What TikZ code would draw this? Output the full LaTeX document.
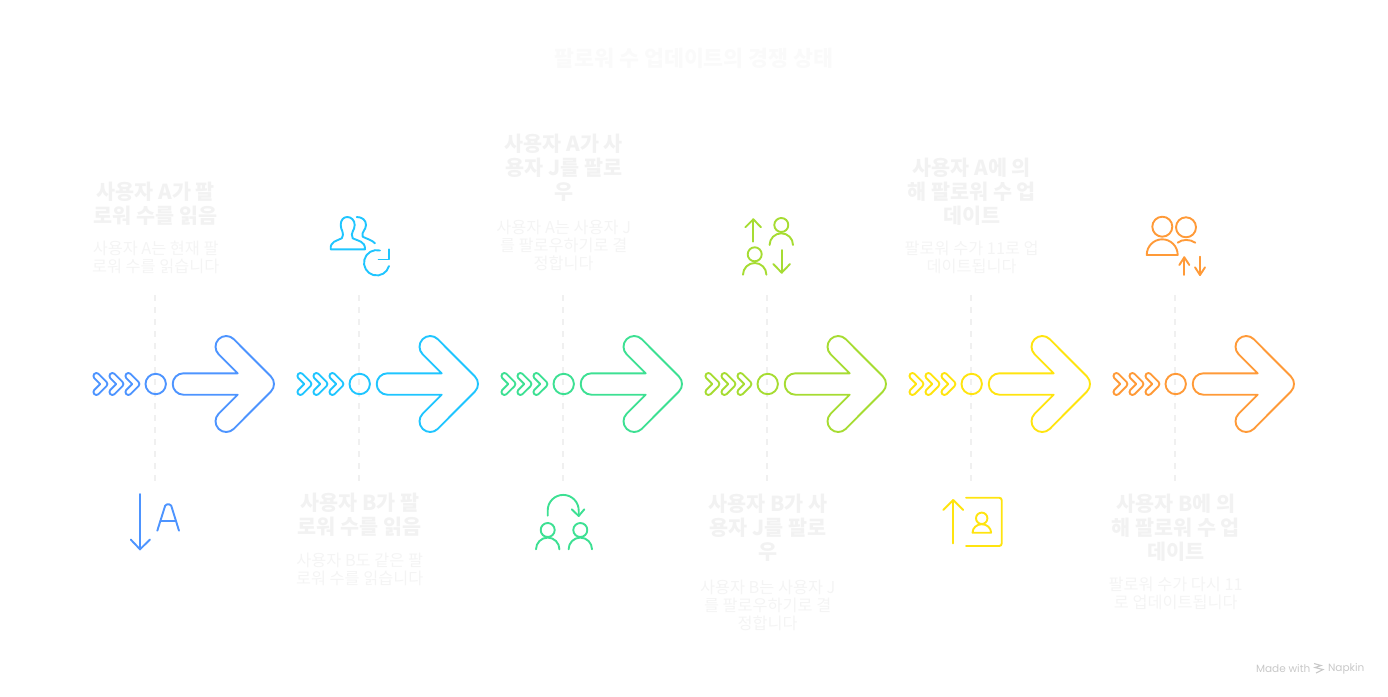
\documentclass[tikz,border=0pt]{standalone}
\usepackage{fontspec}
\setmainfont{Noto Sans CJK KR}
\newfontfamily\footfont{Poppins}
\definecolor{stepblue}{HTML}{4D94FF}
\definecolor{stepcyan}{HTML}{1FC5FF}
\definecolor{stepgreen}{HTML}{3DE093}
\definecolor{steplime}{HTML}{A6DC32}
\definecolor{stepyellow}{HTML}{FFE40F}
\definecolor{steporange}{HTML}{FF9A38}
\definecolor{titlegray}{HTML}{FAFAFA}
\definecolor{headgray}{HTML}{F2F2F2}
\definecolor{descgray}{HTML}{F4F4F4}
\definecolor{guidegray}{HTML}{F0F0F0}
\definecolor{footgray}{HTML}{C8C8C8}
\newcommand{\chevronpath}{(-57.18,10.12) -- (-49.18,2.12) arc[start angle=45, end angle=-45, radius=3]
      -- (-57.18,-10.12) arc[start angle=-45, end angle=-225, radius=3]
      -- (-55.54,0) -- (-61.42,5.88) arc[start angle=225, end angle=45, radius=3] -- cycle}
\tikzset{
  iconline/.style={line width=1.9pt, line cap=round, line join=round},
  guideline/.style={guidegray, line width=2pt, dash pattern=on 6pt off 6pt},
  titletext/.style={titlegray, align=center, font=\fontsize{21.7}{26}\selectfont\bfseries},
  headtext/.style={headgray, align=center, font=\fontsize{20.7}{24}\selectfont\bfseries},
  desctext/.style={descgray, align=center, font=\fontsize{16.3}{18}\selectfont},
  foottext/.style={footgray, anchor=west, font=\fontsize{10.5}{12}\selectfont\footfont},
  stepmark/.pic={
    \path[pic actions] \chevronpath;
    \path[pic actions, xshift=16pt] \chevronpath;
    \path[pic actions, xshift=32pt] \chevronpath;
    \path[pic actions] (0,0) circle[radius=10.2];
    \path[pic actions] (27.7,10.7) -- (81.96,10.7) -- (62.93,29.73) arc[start angle=225, end angle=45, radius=10.7]
      -- (115.17,7.57) arc[start angle=45, end angle=-45, radius=10.7]
      -- (78.07,-44.87) arc[start angle=-45, end angle=-225, radius=10.7]
      -- (81.96,-10.7) -- (27.7,-10.7) arc[start angle=270, end angle=90, radius=10.7] -- cycle;
  }
}
\begin{document}
\begin{tikzpicture}[x=1pt,y=1pt,yscale=-1]
\useasboundingbox (0,0) rectangle (1388,696);
\node[titletext] (T) at (694,58) {팔로워 수 업데이트의 경쟁 상태};
\coordinate (S1) at (155.7,384);
\coordinate (S2) at (359.7,384);
\coordinate (S3) at (563.7,384);
\coordinate (S4) at (767.7,384);
\coordinate (S5) at (971.7,384);
\coordinate (S6) at (1175.7,384);
\coordinate (G1a) at (155.4,295);
\coordinate (G1b) at (155.4,482);
\coordinate (G2a) at (359.4,295);
\coordinate (G2b) at (359.4,482);
\coordinate (G3a) at (563.4,295);
\coordinate (G3b) at (563.4,482);
\coordinate (G4a) at (767.4,295);
\coordinate (G4b) at (767.4,482);
\coordinate (G5a) at (971.4,295);
\coordinate (G5b) at (971.4,482);
\coordinate (G6a) at (1175.4,295);
\coordinate (G6b) at (1175.4,482);
\draw[guideline] (G1a) -- (G1b);
\draw[guideline] (G2a) -- (G2b);
\draw[guideline] (G3a) -- (G3b);
\draw[guideline] (G4a) -- (G4b);
\draw[guideline] (G5a) -- (G5b);
\draw[guideline] (G6a) -- (G6b);
\pic[iconline, draw=stepblue] at (S1) {stepmark};
\pic[iconline, draw=stepcyan] at (S2) {stepmark};
\pic[iconline, draw=stepgreen] at (S3) {stepmark};
\pic[iconline, draw=steplime] at (S4) {stepmark};
\pic[iconline, draw=stepyellow] at (S5) {stepmark};
\pic[iconline, draw=steporange] at (S6) {stepmark};
\node[headtext] (H1) at (155.7,204) {사용자 A가 팔\\로워 수를 읽음};
\node[desctext] (D1) at (155.7,257.5) {사용자 A는 현재 팔\\로워 수를 읽습니다};
\node[headtext] (H2) at (359.7,515) {사용자 B가 팔\\로워 수를 읽음};
\node[desctext] (D2) at (359.7,569.5) {사용자 B도 같은 팔\\로워 수를 읽습니다};
\node[headtext] (H3) at (563.7,168) {사용자 A가 사\\용자 J를 팔로\\우};
\node[desctext] (D3) at (563.7,245.5) {사용자 A는 사용자 J\\를 팔로우하기로 결\\정합니다};
\node[headtext] (H4) at (767.7,528) {사용자 B가 사\\용자 J를 팔로\\우};
\node[desctext] (D4) at (767.7,605.5) {사용자 B는 사용자 J\\를 팔로우하기로 결\\정합니다};
\node[headtext] (H5) at (971.7,192) {사용자 A에 의\\해 팔로워 수 업\\데이트};
\node[desctext] (D5) at (971.7,257.5) {팔로워 수가 11로 업\\데이트됩니다};
\node[headtext] (H6) at (1175.7,528) {사용자 B에 의\\해 팔로워 수 업\\데이트};
\node[desctext] (D6) at (1175.7,593.5) {팔로워 수가 다시 11\\로 업데이트됩니다};
\draw[iconline, stepblue] (140,494) -- (140,549.3);
\draw[iconline, stepblue] (130.7,539.5) -- (140,549.3) -- (150,539.5);
\draw[iconline, stepblue, rounded corners=1.5pt] (157.3,530.7) -- (165.6,504.3) -- (170.8,504.3) -- (179,530.7);
\draw[iconline, stepblue] (160.3,521.3) -- (176,521.3);
\draw[iconline, stepcyan] (330.7,249.3) -- (365,249.3) .. controls (365.3,241) and (358,241) .. (352.7,238.3) .. controls (350,232) and (354.7,231) .. (354.7,225) .. controls (354.7,220) and (351,217) .. (347.3,217) .. controls (343.5,217) and (340.7,220) .. (340.7,225) .. controls (340.7,231) and (345,232) .. (341.7,238.3) .. controls (337,241) and (330,241) .. (330.7,249.3);
\draw[iconline, stepcyan] (356.7,217) .. controls (362,217) and (366,220) .. (366,225) .. controls (366,230) and (361,232) .. (362.7,236.7) .. controls (367,239) and (372,240) .. (375,243.3);
\draw[iconline, stepcyan] (380,250.5) arc[start angle=285, end angle=15, radius=12.7];
\draw[iconline, stepcyan] (389.3,249.3) -- (389.3,259.5) -- (378.5,259.5);
\draw[iconline, stepgreen] (547.7,515.7) -- (547.7,510.4) arc[start angle=180, end angle=360, radius=15.5] -- (578.7,516);
\draw[iconline, stepgreen] (571.7,509.3) -- (578.7,516) -- (584.3,509.3);
\draw[iconline, stepgreen] (547.7,530) circle[radius=7];
\draw[iconline, stepgreen] (536,549.3) arc[start angle=180, end angle=360, radius=11.7];
\draw[iconline, stepgreen] (580.3,530) circle[radius=7];
\draw[iconline, stepgreen] (568.6,549.3) arc[start angle=180, end angle=360, radius=11.7];
\draw[iconline, steplime] (753.3,241.7) -- (753.3,219.3);
\draw[iconline, steplime] (745.3,227.3) -- (753.3,219.3) -- (761,227.3);
\draw[iconline, steplime] (781.3,225) circle[radius=7];
\draw[iconline, steplime] (769.6,245) arc[start angle=180, end angle=360, radius=11.7];
\draw[iconline, steplime] (754.7,254.3) circle[radius=7];
\draw[iconline, steplime] (743,274.7) arc[start angle=180, end angle=360, radius=11.7];
\draw[iconline, steplime] (781.7,250) -- (781.7,272.7);
\draw[iconline, steplime] (773.3,264) -- (781.7,272.7) -- (790,264);
\draw[iconline, stepyellow] (953.3,543.3) -- (953.3,500);
\draw[iconline, stepyellow] (943.3,510) -- (953.3,500) -- (963.3,510);
\draw[iconline, stepyellow, rounded corners=2.5pt] (966,497.7) -- (1001.7,497.7) -- (1001.7,546) -- (966,546);
\draw[iconline, stepyellow] (981.7,518.3) circle[radius=5.7];
\draw[iconline, stepyellow] (972.5,532.7) arc[start angle=180, end angle=360, x radius=9.3, y radius=8.5] -- cycle;
\draw[iconline, steporange] (1162.3,226.7) circle[radius=10];
\draw[iconline, steporange] (1146.7,255) arc[start angle=180, end angle=360, x radius=15.5, y radius=15.7] -- cycle;
\draw[iconline, steporange] (1186,227.3) circle[radius=10];
\draw[iconline, steporange] (1177.7,242.7) .. controls (1182,239) and (1190,239) .. (1195.3,242.7);
\draw[iconline, steporange] (1184.3,275) -- (1184.3,257.3);
\draw[iconline, steporange] (1179.3,265) -- (1184.3,257.3) -- (1189.3,265);
\draw[iconline, steporange] (1200,256.7) -- (1200,275);
\draw[iconline, steporange] (1195,267.3) -- (1200,275) -- (1205,267.3);
\node[foottext] (F1) at (1252.5,668.5) {Made with};
\node[foottext] (F2) at (1324.5,668.5) {Napkin};
\draw[footgray, line width=1.1pt] (1314,663.5) -- (1321,665.5) -- (1315,667.5) -- (1323,669.5) -- (1316,673);
\end{tikzpicture}
\end{document}
